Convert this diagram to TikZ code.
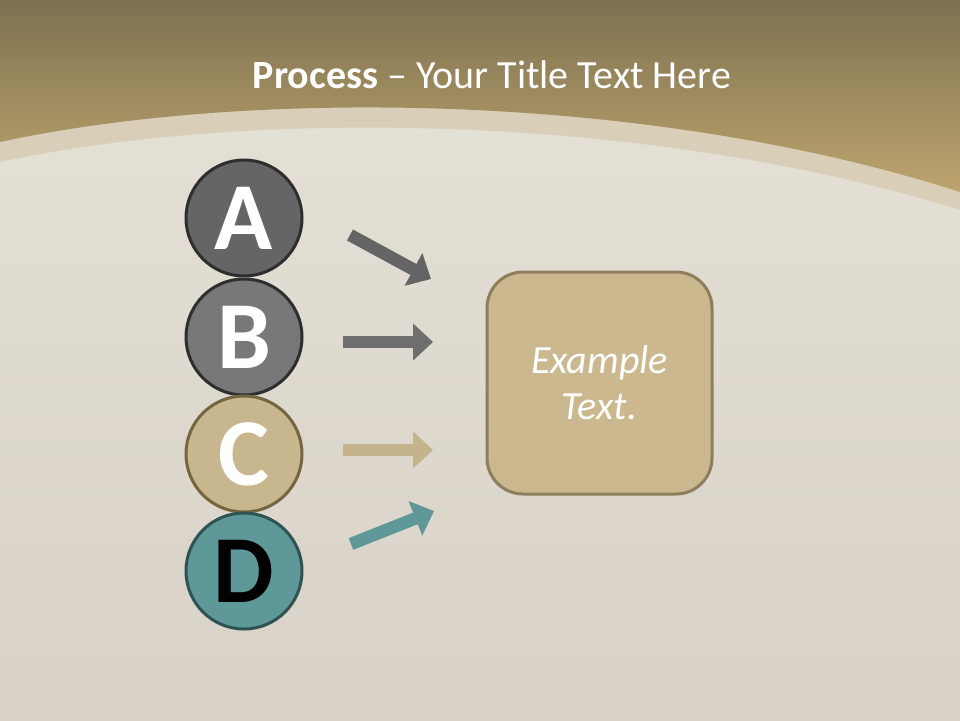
\documentclass[tikz,border=0pt]{standalone}
\usepackage{fontspec}
\setmainfont{Carlito}
\usetikzlibrary{arrows.meta}
\definecolor{wallA}{HTML}{E6E3D9}
\definecolor{wallB}{HTML}{D8D1C7}
\definecolor{tanTop}{HTML}{7E7150}
\definecolor{tanBot}{HTML}{BDA46E}
\definecolor{bandC}{HTML}{D9CFB8}
\definecolor{aFill}{HTML}{656565}
\definecolor{bFill}{HTML}{787878}
\definecolor{greyEdge}{HTML}{2E2E2E}
\definecolor{cFill}{HTML}{C8B68E}
\definecolor{cEdge}{HTML}{75663F}
\definecolor{dFill}{HTML}{5F9898}
\definecolor{dEdge}{HTML}{2F5353}
\definecolor{boxFill}{HTML}{CBB88E}
\definecolor{boxEdge}{HTML}{8E7E5C}
\definecolor{arrA}{HTML}{646464}
\definecolor{arrB}{HTML}{6E6E6E}
\definecolor{arrC}{HTML}{C5B38B}
\definecolor{arrD}{HTML}{5F9898}
\tikzset{
  letter/.style={circle, minimum size=116pt, inner sep=0pt, line width=3pt,
    font=\fontsize{96}{96}\selectfont\bfseries, text=white},
  flow/.style={line width=12.5pt, -{Triangle[width=36pt,length=20pt]}},
  examplebox/.style={rounded corners=36pt, fill=boxFill, draw=boxEdge, line width=3pt,
    minimum width=225pt, minimum height=222pt, inner sep=0pt,
    text=white, align=center, font=\fontsize{40}{46}\selectfont\itshape},
}
\begin{document}
\begin{tikzpicture}[x=1pt,y=-1pt]
\useasboundingbox (0,0) rectangle (960,720);
% wall background
\shade[top color=wallA, bottom color=wallB] (0,0) rectangle (960,720);
% light band
\fill[bandC] (0,0) -- (960,0) -- (960,210) .. controls (650,113) and (250,108) .. (0,162) -- cycle;
% tan header
\shade[top color=tanTop, bottom color=tanBot] (0,0) -- (960,0) -- (960,192) .. controls (650,92) and (250,88) .. (0,142) -- cycle;
% title
\node[text=white, font=\fontsize{40}{48}\selectfont, anchor=base] (title) at (492,88)
  {\textbf{Process} – Your Title Text Here};
% circles
\node[letter, fill=aFill, draw=greyEdge] (A) at (244,218) {A};
\node[letter, fill=bFill, draw=greyEdge] (B) at (244,337) {B};
\node[letter, fill=cFill, draw=cEdge] (C) at (244,454) {C};
\node[letter, fill=dFill, draw=dEdge, text=black] (D) at (244,571) {D};
% box
\node[examplebox] (box) at (599.5,383) {Example\\Text.};
% arrow coordinates
\coordinate (a1) at (350,235); \coordinate (a2) at (431,279);
\coordinate (b1) at (343,342); \coordinate (b2) at (433,342);
\coordinate (c1) at (343,450); \coordinate (c2) at (433,450);
\coordinate (d1) at (351,544); \coordinate (d2) at (434,511);
\draw[flow, draw=arrA, fill=arrA] (a1) -- (a2);
\draw[flow, draw=arrB, fill=arrB] (b1) -- (b2);
\draw[flow, draw=arrC, fill=arrC] (c1) -- (c2);
\draw[flow, draw=arrD, fill=arrD] (d1) -- (d2);
\end{tikzpicture}
\end{document}
